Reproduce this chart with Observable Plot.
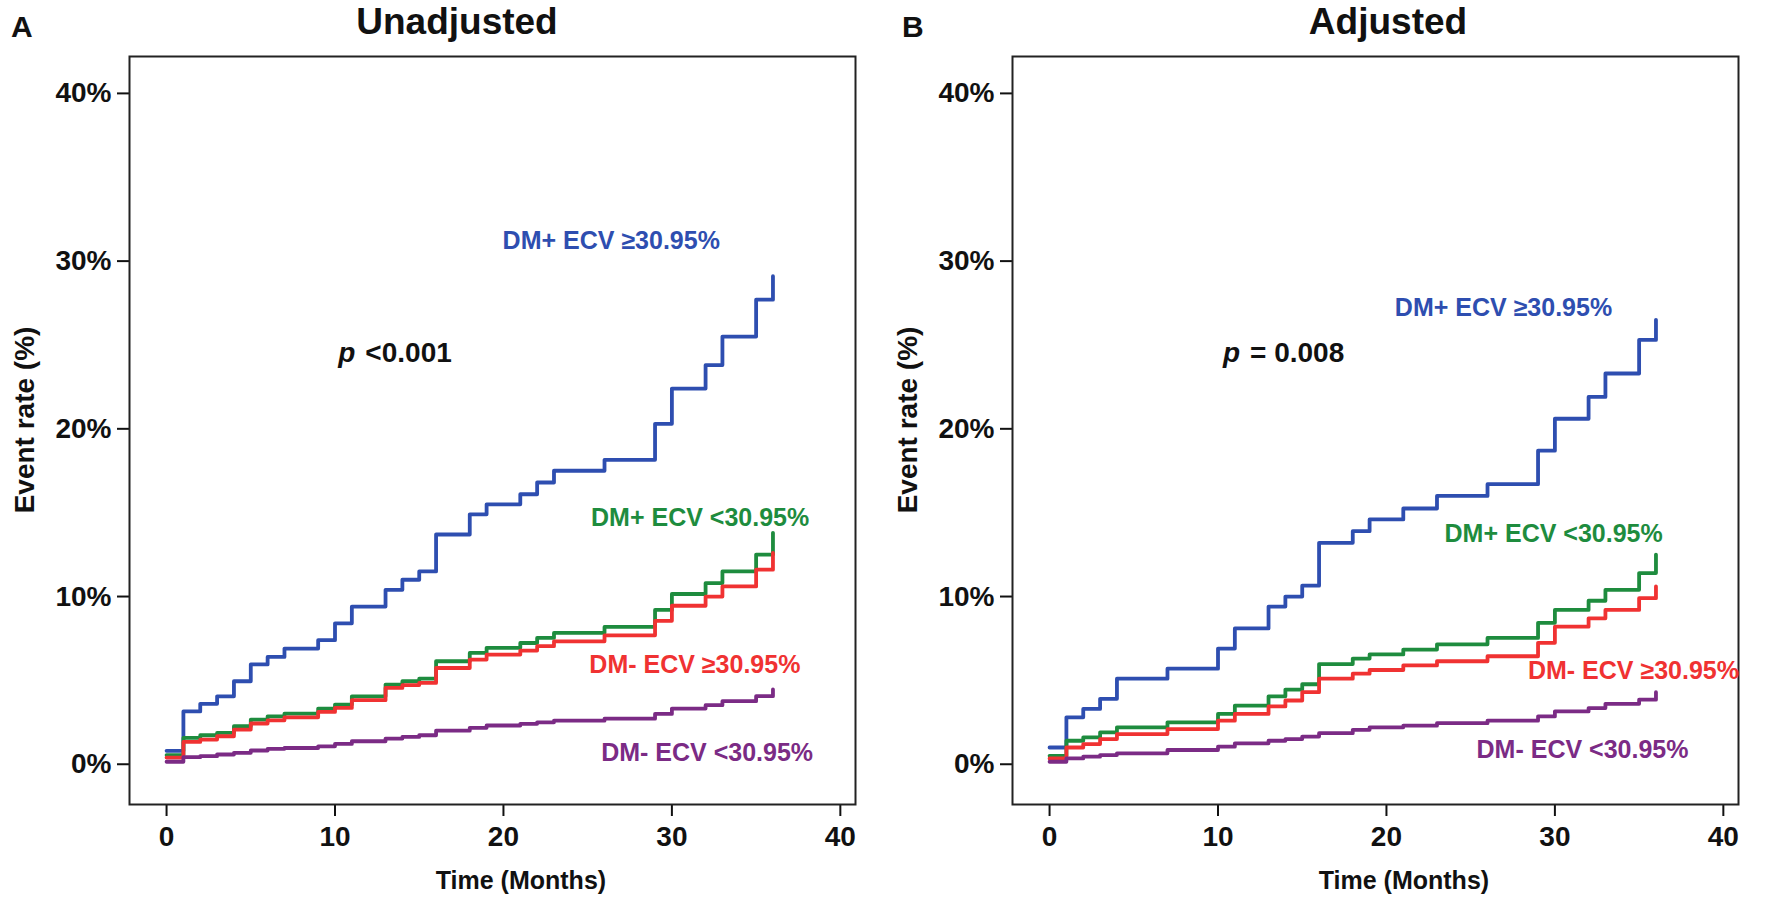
<!DOCTYPE html>
<html><head><meta charset="utf-8">
<script src="https://cdn.jsdelivr.net/npm/d3@7"></script>
<script src="https://cdn.jsdelivr.net/npm/@observablehq/plot@0.6"></script>
<style>
html,body{margin:0;padding:0;background:#fff;}
#root{position:relative;width:1772px;height:907px;overflow:hidden;}
.panel{position:absolute;top:0;}
.panel [aria-label="x-axis tick"], .panel [aria-label="y-axis tick"]{stroke-width:2px;}
</style></head><body><div id="root"></div>
<script>
// ---- data ----
const series = ["DM+ ECV ≥30.95%", "DM+ ECV <30.95%", "DM- ECV ≥30.95%", "DM- ECV <30.95%"];
const seriesColors = ["#2e4eb0", "#1e8c3e", "#f03232", "#7b2b85"];
const xTicks = [0, 10, 20, 30, 40];
const yTicks = [0, 10, 20, 30, 40];

// Panel A: Unadjusted
const monthsA = [0,1,2,3,4,5,6,7,9,10,11,13,14,15,16,18,19,21,22,23,26,29,30,32,33,35,36];
const blueA   = [0.8,3.15,3.6,4.05,4.95,5.95,6.4,6.9,7.4,8.4,9.4,10.4,11.0,11.5,13.7,14.9,15.5,16.1,16.8,17.5,18.15,20.3,22.4,23.8,25.5,27.7,29.1];
const greenA  = [0.55,1.57,1.73,1.87,2.27,2.66,2.86,3.02,3.32,3.56,4.05,4.75,4.95,5.1,6.14,6.64,6.94,7.23,7.53,7.83,8.19,9.2,10.15,10.8,11.5,12.5,13.8];
const redA    = [0.4,1.33,1.47,1.67,2.07,2.43,2.62,2.8,3.12,3.36,3.82,4.55,4.72,4.85,5.74,6.24,6.54,6.78,7.04,7.33,7.69,8.55,9.45,10.0,10.6,11.6,12.6];
const purpleA = [0.15,0.42,0.48,0.58,0.68,0.82,0.92,0.97,1.07,1.21,1.37,1.53,1.63,1.73,2.0,2.17,2.31,2.41,2.5,2.6,2.72,3.0,3.32,3.52,3.76,4.06,4.46];

// Panel B: Adjusted
const monthsB = [0,1,2,3,4,7,10,11,13,14,15,16,18,19,21,23,26,29,30,32,33,35,36];
const blueB   = [1.0,2.8,3.3,3.9,5.1,5.7,6.9,8.1,9.4,10.0,10.65,13.2,13.9,14.6,15.25,16.0,16.7,18.7,20.6,21.9,23.3,25.3,26.5];
const greenB  = [0.5,1.4,1.6,1.9,2.2,2.5,3.0,3.5,4.05,4.45,4.77,5.97,6.3,6.55,6.84,7.15,7.53,8.43,9.2,9.75,10.4,11.4,12.5];
const redB    = [0.35,1.0,1.2,1.5,1.8,2.1,2.6,3.0,3.45,3.8,4.3,5.1,5.4,5.62,5.89,6.14,6.44,7.24,8.2,8.7,9.2,9.9,10.6];
const purpleB = [0.15,0.35,0.45,0.55,0.65,0.85,1.05,1.25,1.4,1.5,1.65,1.85,2.05,2.2,2.3,2.45,2.6,2.85,3.15,3.35,3.6,3.85,4.3];

const pTexts = ["<0.001", "= 0.008"];
const titles = ["Unadjusted", "Adjusted"];
const panelLetters = ["A", "B"];

// ---- annotation placement (data coordinates) ----
const annoA = {lab: [[19.95,31.2],[25.2,14.7],[25.1,5.9],[25.8,0.65]], p: [10.2,24.5]};
const annoB = {lab: [[20.5,27.2],[23.45,13.7],[28.4,5.55],[25.35,0.83]], p: [10.3,24.5]};

const FONT = '"Liberation Sans", Arial, Helvetica, sans-serif';

function buildRows(months, arrs) {
  const rows = [];
  arrs.forEach((arr, i) => arr.forEach((v, j) => rows.push({t: months[j], v, s: series[i]})));
  return rows;
}

function makePanel(cfg) {
  const rows = buildRows(cfg.months, cfg.arrs);
  const labs = series.map((s, i) => ({s, t: cfg.anno.lab[i][0], v: cfg.anno.lab[i][1]}));
  const pd = [{t: cfg.anno.p[0], v: cfg.anno.p[1]}];
  const plot = Plot.plot({
    width: 886, height: 907,
    marginLeft: cfg.ml, marginRight: cfg.mr, marginTop: 56, marginBottom: 103,
    style: {fontFamily: FONT, fontSize: "28px", fontWeight: "bold", color: "#111", background: "transparent", overflow: "visible"},
    x: {domain: [-2.2, 40.9], ticks: xTicks, tickSize: 12, tickPadding: 10, label: null},
    y: {domain: [-2.4, 42.2], ticks: yTicks, tickSize: 12, tickPadding: 6, tickFormat: d => d + "%", label: null},
    color: {domain: series, range: seriesColors},
    marks: [
      Plot.line(rows, {x: "t", y: "v", z: "s", stroke: "s", curve: "step-after", strokeWidth: 3.8}),
      Plot.frame({stroke: "#222", strokeWidth: 2}),
      Plot.text(labs, {x: "t", y: "v", text: "s", fill: "s", textAnchor: "start", fontSize: 25, fontWeight: "bold", fontFamily: FONT}),
      Plot.text(pd, {x: "t", y: "v", text: () => "p", textAnchor: "start", fontSize: 28, fontWeight: "bold", fontStyle: "italic", fill: "#111", fontFamily: FONT}),
      Plot.text(pd, {x: "t", y: "v", text: () => cfg.p, dx: 27, textAnchor: "start", fontSize: 28, fontWeight: "bold", fill: "#111", fontFamily: FONT})
    ]
  });
  const svg = d3.select(plot);
  const xs = plot.scale("x");
  const addText = (x, y, txt, size, anchor, transform) => {
    const t = svg.append("text").attr("x", x).attr("y", y).attr("text-anchor", anchor)
      .attr("font-size", size).attr("font-weight", "bold").attr("font-family", FONT).attr("fill", "#111").text(txt);
    if (transform) t.attr("transform", transform).attr("x", 0).attr("y", 0);
    return t;
  };
  addText(cfg.titleX, 34, cfg.title, 37, "middle");
  addText(cfg.letterX, 37, cfg.letter, 30, "start");
  addText(xs.apply(20) + 18, 889, "Time (Months)", 25, "middle");
  addText(0, 0, "Event rate (%)", 28, "middle", `translate(${cfg.yTitleX},420) rotate(-90)`);
  const div = document.createElement("div");
  div.className = "panel";
  div.style.left = cfg.left + "px";
  div.appendChild(plot);
  document.getElementById("root").appendChild(div);
}

makePanel({left: 0, ml: 129, mr: 31, months: monthsA, arrs: [blueA, greenA, redA, purpleA], anno: annoA,
  p: pTexts[0], title: titles[0], titleX: 457, letter: panelLetters[0], letterX: 11, yTitleX: 34});
makePanel({left: 886, ml: 126, mr: 34, months: monthsB, arrs: [blueB, greenB, redB, purpleB], anno: annoB,
  p: pTexts[1], title: titles[1], titleX: 502, letter: panelLetters[1], letterX: 16, yTitleX: 31});
</script></body></html>
